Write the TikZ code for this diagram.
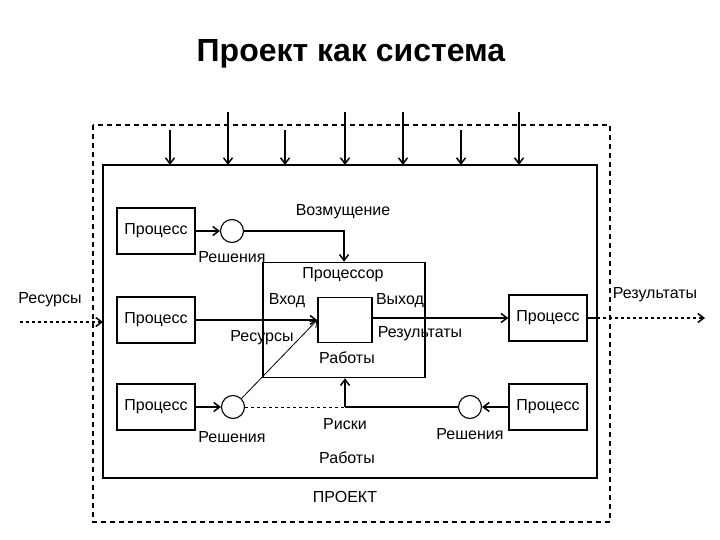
\documentclass[tikz,border=0pt]{standalone}
\usepackage{fontspec}
\setmainfont{Liberation Sans}
\usetikzlibrary{positioning,arrows.meta}
\tikzset{
  procbox/.style={draw, line width=1.5pt, minimum width=78pt, minimum height=46pt, inner sep=0pt, font=\fontsize{16}{18}\selectfont},
  decision/.style={draw, line width=1.1pt, circle, minimum size=23pt, inner sep=0pt},
  lbl/.style={inner sep=1pt, font=\fontsize{16}{18}\selectfont},
  flow/.style={line width=1.5pt, -{Straight Barb[length=6pt,width=9pt]}},
  link/.style={line width=1.5pt},
  border/.style={line width=1.4pt, dash pattern=on 5pt off 4pt}
}
\begin{document}
\begin{tikzpicture}[x=1pt,y=-1pt]
    \useasboundingbox (0,0) rectangle (720,540);
    % title
    \node[font=\bfseries\fontsize{32}{36}\selectfont] (title) at (351,54) {Проект как система};
    % project borders
    \draw[border] (93,125) rectangle (610,522);
    \draw[link] (103,165) rectangle (597,478);
    % disturbances from above
    \foreach \x in {228,345,403,519}
        \draw[flow] (\x,112) -- (\x,165);
    \foreach \x in {170,285,461}
        \draw[flow] (\x,130) -- (\x,165);
    % processes
    \node[procbox] (proc1) at (156,231) {Процесс};
    \node[procbox] (proc2) at (156,320) {Процесс};
    \node[procbox] (proc3) at (156,407) {Процесс};
    \node[procbox] (proc4) at (548,318) {Процесс};
    \node[procbox] (proc5) at (548,407) {Процесс};
    \node[decision] (dec1) at (232,231) {};
    \node[decision] (dec3) at (233,407) {};
    \node[decision] (dec5) at (470,407) {};
    % processor
    \node[draw, line width=1.5pt, minimum width=162pt, minimum height=115pt] (cpu) at (344,320) {};
    \node[draw, line width=1.5pt, minimum width=54pt, minimum height=45pt] (core) at (345,320) {};
    \coordinate (risk) at (345,407);
    \coordinate (resin) at (20,322);
    \coordinate (resout) at (705,318);
    % connectors
    \draw[flow] (proc1) -- (dec1);
    \draw[flow] (dec1.east) -| (cpu.north);
    \draw[flow] (proc2.east) -- (core.west);
    \draw[flow] (proc3) -- (dec3);
    \draw[line width=0.8pt, -{Straight Barb[length=6pt,width=9pt]}] (dec3.north east) -- (core.west);
    \draw[line width=1pt, dashed] (dec3.east) -- (risk);
    \draw[link] (risk) -- (dec5.west);
    \draw[flow] (risk) -- (risk |- cpu.south);
    \draw[flow] (proc5) -- (dec5);
    \draw[flow] (core.east |- proc4.west) -- (proc4.west);
    \draw[link] (proc4.east) -- (597,318);
    \draw[flow, dashed] (597,318) -- (resout);
    \draw[flow, dashed] (resin) -- (103,322);
    % labels
    \node[lbl] (lres) at (50,300) {Ресурсы};
    \node[lbl] (lsol1) at (232,257) {Решения};
    \node[lbl] (ldist) at (343,212) {Возмущение};
    \node[lbl] (lcpu) at (343,275) {Процессор};
    \node[lbl] (lin) at (287,301) {Вход};
    \node[lbl] (lout) at (400,301) {Выход};
    \node[lbl] (lres2) at (262,338) {Ресурсы};
    \node[lbl] (lresult) at (420,334) {Результаты};
    \node[lbl] (lwork) at (347,358) {Работы};
    \node[lbl] (lresult2) at (655,295) {Результаты};
    \node[lbl] (lsol3) at (232,437) {Решения};
    \node[lbl] (lrisk) at (345,424) {Риски};
    \node[lbl] (lsol5) at (470,434) {Решения};
    \node[lbl] (lwork2) at (347,458) {Работы};
    \node[lbl] (lproj) at (345,497) {ПРОЕКТ};
\end{tikzpicture}
\end{document}
